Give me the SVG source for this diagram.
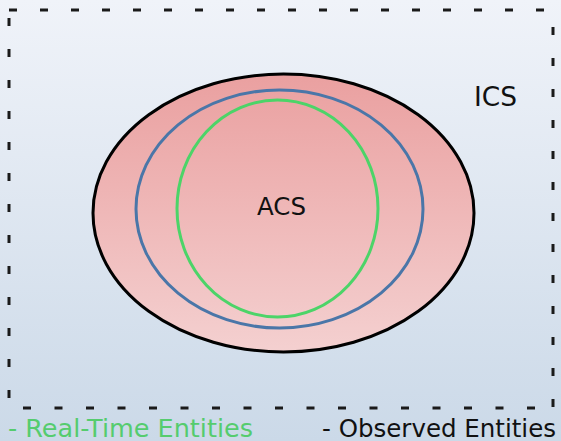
<svg xmlns="http://www.w3.org/2000/svg" width="561" height="441" viewBox="0 0 561 441">
<defs>
<linearGradient id="bg" x1="0" y1="0" x2="0" y2="1">
<stop offset="0" stop-color="#f0f3f9"/>
<stop offset="1" stop-color="#cbd9e8"/>
</linearGradient>
<linearGradient id="pink" x1="0" y1="0" x2="0" y2="1">
<stop offset="0" stop-color="#eaa0a0"/>
<stop offset="1" stop-color="#f4d0d0"/>
</linearGradient>
<style>
.frame{fill:none;stroke:#1a1a1a;stroke-width:3;stroke-dasharray:8 23}
.lbl{font-family:"DejaVu Sans",Verdana,sans-serif;fill:#111}
</style>
</defs>
<rect x="0" y="0" width="561" height="441" fill="url(#bg)"/>
<g id="ics-frame">
<line class="frame" x1="9" y1="10" x2="553" y2="10"/>
<line class="frame" x1="9" y1="18" x2="9" y2="413"/>
<line class="frame" x1="553" y1="27" x2="553" y2="413"/>
<line class="frame" x1="23" y1="408" x2="540" y2="408" style="stroke-dasharray:8 23.5"/>
<text class="lbl" x="474" y="106" font-size="26" textLength="43" lengthAdjust="spacingAndGlyphs">ICS</text>
</g>
<g id="outer">
<ellipse cx="283.5" cy="213" rx="190.5" ry="139" fill="url(#pink)" stroke="#000" stroke-width="3"/>
</g>
<g id="observed">
<ellipse cx="279.5" cy="209" rx="143.5" ry="119" fill="none" stroke="#4a76a8" stroke-width="3"/>
</g>
<g id="acs">
<ellipse cx="277.5" cy="208.5" rx="100.5" ry="108.5" fill="none" stroke="#4cd468" stroke-width="3"/>
<text class="lbl" x="257" y="215" font-size="25" textLength="49" lengthAdjust="spacingAndGlyphs">ACS</text>
</g>
<g id="legend">
<text class="lbl" x="8" y="437" font-size="24" textLength="245" lengthAdjust="spacingAndGlyphs" style="fill:#55cc6e">- Real-Time Entities</text>
<text class="lbl" x="322" y="437" font-size="24" textLength="234" lengthAdjust="spacingAndGlyphs">- Observed Entities</text>
</g>
</svg>
